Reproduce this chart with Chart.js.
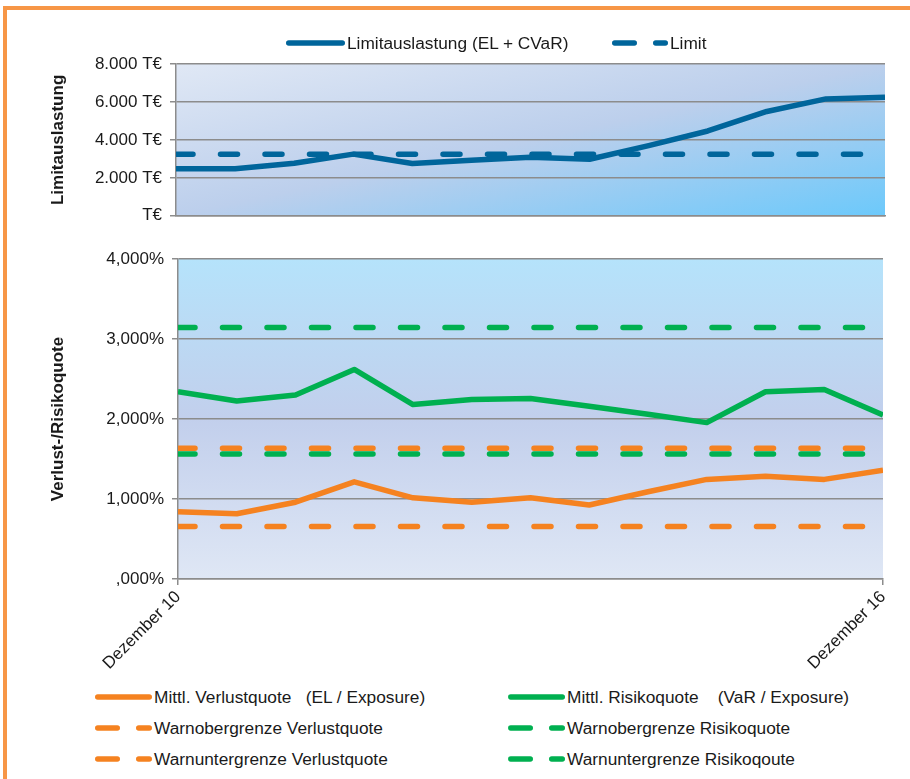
<!DOCTYPE html>
<html><head><meta charset="utf-8">
<script src="https://cdn.jsdelivr.net/npm/chart.js@4.4.1/dist/chart.umd.min.js"></script>
<style>
html,body{margin:0;padding:0;background:#fff;width:910px;height:779px;overflow:hidden;font-family:'Liberation Sans',Arial,sans-serif;}
#frame{position:absolute;left:3px;top:6px;width:1000px;height:1000px;border-left:4px solid #f79646;border-top:4px solid #f79646;}
#c1wrap{position:absolute;left:0;top:0;width:910px;height:234px;}
#c2wrap{position:absolute;left:0;top:236px;width:910px;height:444px;}
.lg{position:absolute;display:flex;align-items:center;height:22px;font-size:17.3px;color:#1a1a1a;white-space:pre;}
.lg svg{margin-right:2px;flex:none;}
</style></head>
<body>
<div id="frame"></div>
<div id="c1wrap"><canvas id="c1"></canvas></div>
<div id="c2wrap"><canvas id="c2"></canvas></div>
<div id="legendTop"></div>
<div id="legendBottom"></div>
<script>
// ---- data ----
const categories = ['Dezember 10','Juni 11','Dezember 11','Juni 12','Dezember 12','Juni 13','Dezember 13','Juni 14','Dezember 14','Juni 15','Dezember 15','Juni 16','Dezember 16'];
const limitauslastung = [2480, 2480, 2770, 3250, 2760, 2930, 3080, 2980, 3700, 4470, 5500, 6160, 6250];
const limitWerte = [3250, 3250, 3250, 3250, 3250, 3250, 3250, 3250, 3250, 3250, 3250, 3250, 3250];
const verlustquote = [0.84, 0.815, 0.96, 1.215, 1.015, 0.96, 1.015, 0.925, 1.09, 1.245, 1.285, 1.245, 1.36];
const risikoquote = [2.34, 2.225, 2.30, 2.62, 2.18, 2.245, 2.255, 2.16, 2.06, 1.955, 2.34, 2.37, 2.05];
const warnoberVerlust = [1.635, 1.635, 1.635, 1.635, 1.635, 1.635, 1.635, 1.635, 1.635, 1.635, 1.635, 1.635, 1.635];
const warnoberRisiko = [3.145, 3.145, 3.145, 3.145, 3.145, 3.145, 3.145, 3.145, 3.145, 3.145, 3.145, 3.145, 3.145];
const warnunterVerlust = [0.655, 0.655, 0.655, 0.655, 0.655, 0.655, 0.655, 0.655, 0.655, 0.655, 0.655, 0.655, 0.655];
const warnunterRisiko = [1.562, 1.562, 1.562, 1.562, 1.562, 1.562, 1.562, 1.562, 1.562, 1.562, 1.562, 1.562, 1.562];
const topTicks = [0, 2000, 4000, 6000, 8000];
const bottomTicks = [0, 1, 2, 3, 4];

// ---- styles ----
const BLUE = '#00659b', ORANGE = '#f58220', GREEN = '#00b050', GRID = '#8c8c8c';
const LW = 5.5, DASH = [17, 27.5];
Chart.defaults.font.family = "'Liberation Sans', Arial, sans-serif";
Chart.defaults.font.size = 17;
Chart.defaults.color = '#1a1a1a';

const bgPlugin = {
  id: 'plotBg',
  beforeDraw(chart, args, opts) {
    const {ctx, chartArea: a} = chart;
    ctx.save();
    if (opts.mode === 'diag') {
      ctx.translate(a.left, a.top); ctx.scale(a.width, a.height);
      const g = ctx.createLinearGradient(0, 0, 1, 1);
      g.addColorStop(0, '#e0e8f5'); g.addColorStop(0.5, '#bccfec'); g.addColorStop(1, '#6cc9fb');
      ctx.fillStyle = g; ctx.fillRect(0, 0, 1, 1);
    } else {
      const g = ctx.createLinearGradient(0, a.top, 0, a.bottom);
      g.addColorStop(0, '#b5e3fb'); g.addColorStop(0.5, '#c2cfec'); g.addColorStop(1, '#dfe7f5');
      ctx.fillStyle = g; ctx.fillRect(a.left, a.top, a.width, a.height);
    }
    ctx.restore();
  }
};

function lineDs(label, data, color, dashed) {
  return {label, data, borderColor: color, backgroundColor: color, borderWidth: LW, pointRadius: 0,
    tension: 0, borderJoinStyle: 'round', borderCapStyle: dashed ? 'round' : 'butt',
    borderDash: dashed ? DASH : [], clip: 0, fill: false};
}

const yTitle = (text) => ({display: true, text, font: {weight: 'bold', size: 17}, color: '#1a1a1a', padding: {top: 48, bottom: 0}});

const chart1 = new Chart(document.getElementById('c1'), {
  type: 'line',
  data: {labels: categories, datasets: [
    lineDs('Limitauslastung (EL + CVaR)', limitauslastung, BLUE, false),
    lineDs('Limit', limitWerte, BLUE, true)
  ]},
  options: {
    responsive: true, maintainAspectRatio: false, animation: false,
    layout: {padding: {top: 64, right: 25, bottom: 5, left: 0}},
    plugins: {legend: {display: false}, tooltip: {enabled: false}, plotBg: {mode: 'diag'}},
    scales: {
      x: {grid: {display: false}, border: {display: true, color: GRID, width: 1.5}, ticks: {display: false}},
      y: {min: 0, max: 8000,
        afterBuildTicks(s) { s.ticks = topTicks.map(v => ({value: v})); },
        afterFit(s) { s.width = 176; },
        ticks: {padding: 8, callback: v => v === 0 ? 'T€' : (v / 1000) + '.000 T€'},
        grid: {color: GRID, lineWidth: 1.5, tickLength: 6},
        border: {color: GRID, width: 1.5},
        title: yTitle('Limitauslastung')}
    }
  },
  plugins: [bgPlugin]
});

const last = categories.length - 1;
const chart2 = new Chart(document.getElementById('c2'), {
  type: 'line',
  data: {labels: categories, datasets: [
    lineDs('Mittl. Verlustquote   (EL / Exposure)', verlustquote, ORANGE, false),
    lineDs('Mittl. Risikoquote    (VaR / Exposure)', risikoquote, GREEN, false),
    lineDs('Warnobergrenze Verlustquote', warnoberVerlust, ORANGE, true),
    lineDs('Warnobergrenze Risikoquote', warnoberRisiko, GREEN, true),
    lineDs('Warnuntergrenze Verlustquote', warnunterVerlust, ORANGE, true),
    lineDs('Warnuntergrenze Risikoqoute', warnunterRisiko, GREEN, true)
  ]},
  options: {
    responsive: true, maintainAspectRatio: false, animation: false,
    layout: {padding: {top: 23, right: 27, bottom: 0, left: 0}},
    plugins: {legend: {display: false}, tooltip: {enabled: false}, plotBg: {mode: 'vert'}},
    scales: {
      x: {
        afterFit(s) { s.height = 101; },
        grid: {display: true, drawOnChartArea: false, drawTicks: true, tickLength: 6, lineWidth: 1.5,
          color: c => (c.index === 0 || c.index === last) ? GRID : 'rgba(0,0,0,0)'},
        border: {display: true, color: GRID, width: 1.5},
        ticks: {autoSkip: false, maxRotation: 45, minRotation: 45, padding: 2,
          callback(v, i) { return (i === 0 || i === last) ? this.getLabelForValue(v) : ''; }}
      },
      y: {min: 0, max: 4,
        afterBuildTicks(s) { s.ticks = bottomTicks.map(v => ({value: v})); },
        afterFit(s) { s.width = 178; },
        ticks: {padding: 8, callback: v => v.toFixed(3).replace('.', ',').replace(/^0/, '') + '%'},
        grid: {color: GRID, lineWidth: 1.5, tickLength: 6},
        border: {color: GRID, width: 1.5},
        title: yTitle('Verlust-/Risikoquote')}
    }
  },
  plugins: [bgPlugin]
});

// ---- HTML legends generated from datasets ----
function marker(ds, w) {
  const ns = 'http://www.w3.org/2000/svg';
  const svg = document.createElementNS(ns, 'svg');
  svg.setAttribute('width', w); svg.setAttribute('height', 12);
  const ln = document.createElementNS(ns, 'line');
  ln.setAttribute('x1', 2.75); ln.setAttribute('x2', w - 2.75);
  ln.setAttribute('y1', 6); ln.setAttribute('y2', 6);
  ln.setAttribute('stroke', ds.borderColor); ln.setAttribute('stroke-width', LW);
  ln.setAttribute('stroke-linecap', 'round');
  if (ds.borderDash && ds.borderDash.length) ln.setAttribute('stroke-dasharray', '19.5 21.5');
  svg.appendChild(ln);
  return svg;
}
function addItem(parent, ds, left, cy, w) {
  const d = document.createElement('div');
  d.className = 'lg';
  d.style.left = left + 'px'; d.style.top = (cy - 11) + 'px';
  d.appendChild(marker(ds, w));
  const s = document.createElement('span'); s.textContent = ds.label;
  d.appendChild(s);
  parent.appendChild(d);
}
const lt = document.getElementById('legendTop');
const tds = chart1.data.datasets;
addItem(lt, tds[0], 286, 43, 59);
addItem(lt, tds[1], 612, 43, 56);
const lb = document.getElementById('legendBottom');
const bds = chart2.data.datasets;
const cols = [95, 508], rows = [697, 728, 759];
bds.forEach((ds, i) => addItem(lb, ds, cols[i % 2], rows[Math.floor(i / 2)], 57));
</script>
</body></html>
